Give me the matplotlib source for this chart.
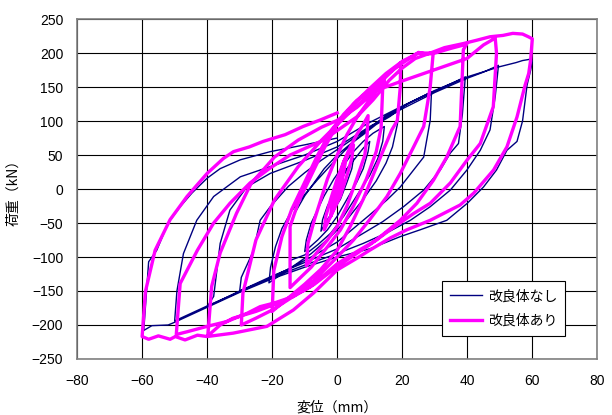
import matplotlib
matplotlib.use("Agg")
import matplotlib.pyplot as plt

plt.rcParams["font.family"] = ["Noto Sans CJK JP", "DejaVu Sans"]

# 改良体なし: load path (displacement mm, load kN), one row per cycle
nashi_pts = [
    # +-2
    (0, 0), (1, 12), (2, 22), (1.5, 8), (0.5, -8), (-1, -20), (-2, -30), (-1.5, -18), (-0.5, -5), (0.5, 8),
    # +-5
    (2, 20), (3.5, 33), (5, 45), (4.5, 30), (3, 10), (1, -15), (-1, -30), (-3, -45), (-5, -62),
    (-4.5, -45), (-3, -25), (-1, -5), (1, 15),
    # +-10
    (3, 30), (6, 48), (8, 60), (10, 70), (9.5, 55), (8, 30), (6, 10), (3, -15), (0, -40), (-3, -60),
    (-6, -75), (-10, -92), (-9.5, -75), (-8, -50), (-6, -30), (-4, -10), (-1, 15), (2, 35), (5, 55),
    # +-15
    (8, 70), (11, 82), (14.5, 92), (14, 70), (12.5, 45), (10, 20), (6, -10), (2, -40), (-2, -65),
    (-6, -82), (-10, -97), (-14.5, -105), (-14.5, -55), (-13, -35), (-10, -10), (-7, 10), (-4, 30),
    (0, 50), (4, 66), (8, 80),
    # +-20
    (12, 95), (16, 106), (19, 116), (18.5, 95), (17, 62), (15, 38), (12, 12), (8, -15), (3, -45),
    (-2, -70), (-8, -95), (-14, -115), (-21, -138), (-20.5, -115), (-19, -85), (-17, -58), (-14, -32),
    (-10, -8), (-6, 14), (-2, 35), (2, 55), (6, 74), (10, 90),
    # +-30
    (15, 108), (22, 126), (29, 143), (28.6, 101), (26.6, 47), (23.5, 28), (19.4, 3), (15.3, -16),
    (10, -38), (5, -58), (0, -78), (-8, -100), (-16, -120), (-23, -136), (-30, -150), (-29.5, -130),
    (-25.7, -90), (-23.7, -46), (-20.6, -26), (-15, 4), (-10, 24), (-5, 42), (0, 58), (8, 84),
    (15, 106), (22, 126),
    # +-40
    (30, 144), (35, 155), (39.4, 165), (38.5, 110), (37.3, 67), (34.8, 53), (31.7, 28), (26.6, -1.5),
    (20.4, -26), (14, -48), (7, -68), (0, -88), (-10, -108), (-20, -128), (-30, -150), (-40, -173),
    (-38, -158), (-36, -80), (-33, -31), (-27.8, 3), (-20.6, 23), (-10, 42), (0, 62), (10, 92),
    (20, 118), (30, 142),
    # +-50
    (40, 163), (45, 172), (49.6, 182), (48.6, 136), (47, 87), (44, 57), (39.9, 28), (34.8, -1.5),
    (28.6, -26), (22.5, -46), (15, -65), (8, -80), (0, -95), (-10, -112), (-20, -130), (-30, -151),
    (-40, -172), (-50, -194), (-49.3, -150), (-47.3, -95), (-43.2, -46), (-38, -11), (-29.8, 18),
    (-20.6, 33), (-10, 50), (0, 70), (10, 98), (20, 122), (30, 145), (40, 165), (50, 180),
    # +-60
    (55, 186), (57, 189), (59.4, 191), (60, 188), (59.5, 175), (58.4, 153), (57, 100), (55.3, 70),
    (52.2, 57), (49, 28), (45, 3), (40, -21), (33.7, -46), (25.5, -60), (19.4, -70), (10, -88),
    (0, -100), (-10, -115), (-20, -132), (-30, -152), (-40, -174), (-50, -196), (-52, -200),
    (-57, -201), (-59.5, -208), (-58, -107), (-55.5, -90), (-52, -50), (-48.3, -26), (-44.7, -6),
    (-40, 16), (-36, 30), (-29.8, 43), (-20.6, 55), (-10, 65), (0, 75),
]

# 改良体あり
ari_pts = [
    # +-2 (x3)
    (0, 0), (1, 20), (2, 35), (1.5, 15), (0, -10), (-1, -22), (-1.5, -30), (-1, -12), (0, 8),
    (1.5, 28), (2.2, 38), (1.5, 15), (0, -12), (-1.5, -32), (-1, -12), (0.5, 15),
    (2, 40), (2.8, 48), (2, 25), (0.5, -5), (-1, -28), (-2, -40), (-1.5, -20), (0, 5), (1.5, 30),
    # +-5
    (2.5, 42), (3.5, 52), (5, 65), (4.5, 45), (3, 20), (1, -10), (-1, -30), (-2.5, -45), (-4, -60),
    (-3.5, -40), (-2, -15), (0, 15), (2, 40),
    # +-10
    (4, 62), (6, 80), (8, 95), (9.5, 108), (9.2, 80), (8.5, 50), (6, 15), (3, -25), (0, -55),
    (-3, -75), (-6, -92), (-9.5, -113), (-9, -80), (-7, -45), (-5, -15), (-3, 15), (0, 50),
    (3, 80), (6, 105), (9, 125),
    # +-15
    (12, 145), (14.5, 160), (14, 150), (13.5, 90), (12, 55), (9, 15), (5, -25), (1, -60), (-3, -85),
    (-8, -115), (-14.5, -145), (-14.5, -55), (-12, -20), (-8, 20), (-4, 60), (0, 95), (5, 125),
    (10, 148), (15, 170),
    # +-20
    (19.5, 186), (19.4, 150), (18.5, 101), (16.8, 87), (14, 55), (11, 20), (8, -15), (4, -55),
    (0, -90), (-5, -118), (-10, -140), (-15, -160), (-20, -180), (-19.5, -120), (-17, -70),
    (-14, -30), (-10, 10), (-6, 50), (-2, 85), (2, 110), (6, 130), (10, 145), (15, 168), (20, 185),
    (25, 201), (27, 199),
    # +-30
    (29.5, 199), (28.6, 150), (26.6, 92), (23.5, 62), (19.4, 23), (15.3, -11), (10, -45), (5, -75),
    (0, -100), (-7.3, -135), (-13.5, -158), (-20, -178), (-25, -190), (-29.5, -200), (-29, -153),
    (-25, -75), (-19.3, -16), (-12, 33), (-4.8, 72), (0, 95), (5, 118), (10, 140), (15, 165),
    (20, 188), (25, 200), (30, 200), (35, 207),
    # +-40
    (39.8, 213), (38.8, 205), (37.8, 92), (33.7, 47), (29.6, 13), (24.5, -21), (19.4, -46),
    (12, -75), (5, -95), (0, -110), (-8.3, -144), (-16.6, -165), (-25, -180), (-32, -190),
    (-36, -200), (-39.8, -216), (-38.6, -143), (-36, -94), (-31, -36), (-26.5, 8), (-19.3, 47),
    (-12, 72), (-4.8, 91), (0, 101), (6, 120), (12, 145), (19.4, 158), (29.6, 175), (39.9, 192),
    (45, 212),
    # +-50
    (48.6, 222), (49, 200), (48, 121), (44, 67), (40, 43), (34.8, 9), (28.6, -21), (23.5, -36),
    (16.3, -60), (10, -82), (5, -98), (0, -114), (-7, -140), (-13.4, -158), (-19.6, -168),
    (-23.7, -173), (-27.8, -183), (-34, -195), (-40, -202), (-46.2, -210), (-49.5, -214),
    (-48.3, -139), (-43, -90), (-38, -50), (-33, -21), (-26.8, 9), (-20.6, 31), (-14.5, 50),
    (-4.2, 72), (6, 106), (11, 131), (16, 160), (20, 178), (24, 192), (28.6, 200), (33, 208),
    (38.8, 214), (43, 219), (47, 224), (51, 226), (54, 229), (57, 228), (58.8, 224),
    # +-60
    (60, 221), (59.5, 190), (58.9, 170), (57.8, 153), (55.3, 106), (52.2, 62), (48.1, 28), (42, -6),
    (37.8, -23.5), (28.6, -46), (21.4, -60), (16.3, -72), (10, -90), (6, -102), (0, -119),
    (-7.3, -153), (-13.5, -178), (-21.6, -202), (-32, -212), (-40, -217), (-43, -215),
    (-46.8, -222), (-49.8, -217), (-51.4, -221), (-55, -216), (-58, -221), (-60, -217),
    (-59, -151), (-56, -90), (-51.4, -45), (-46.2, -11), (-40, 23), (-35, 45), (-31.9, 55),
    (-27, 62), (-22.8, 70), (-16, 80), (-10.5, 92), (-5, 102), (0, 112),
]

x_ticks = list(range(-80, 81, 20))
y_ticks = list(range(-250, 251, 50))

fig = plt.figure(figsize=(6.12, 4.15), dpi=100)
ax = fig.add_axes([0.126, 0.135, 0.85, 0.819])

nx, ny = zip(*nashi_pts)
px, py = zip(*ari_pts)
ax.plot(nx, ny, color="#000080", lw=1.0, label="改良体なし", zorder=3)
ax.plot(px, py, color="#FF00FF", lw=2.4, label="改良体あり", zorder=4)

ax.set_xlim(-80, 80)
ax.set_ylim(-250, 250)
ax.set_xticks(x_ticks)
ax.set_yticks(y_ticks)
ax.grid(True, color="black", lw=0.8)
ax.set_axisbelow(True)
for s in ax.spines.values():
    s.set_color("#808080")
    s.set_linewidth(1.2)
ax.tick_params(length=0)
ax.tick_params(axis="x", pad=11)
ax.tick_params(axis="y", pad=10)
for lab in ax.get_xticklabels() + ax.get_yticklabels():
    lab.set_family(["Liberation Sans", "DejaVu Sans"])
    lab.set_fontsize(10)

ax.set_xlabel("変位（mm）", fontsize=10, labelpad=9)
ax.set_ylabel("荷重（kN）", fontsize=10, labelpad=8)

leg = ax.legend(loc="lower right", bbox_to_anchor=(0.9385, 0.0676), borderaxespad=0,
                fontsize=10, fancybox=False, framealpha=1, edgecolor="black",
                handlelength=2.3, handletextpad=0.4, borderpad=0.6, labelspacing=0.75)
leg.get_frame().set_linewidth(0.8)

fig.savefig("out.png", dpi=100)
